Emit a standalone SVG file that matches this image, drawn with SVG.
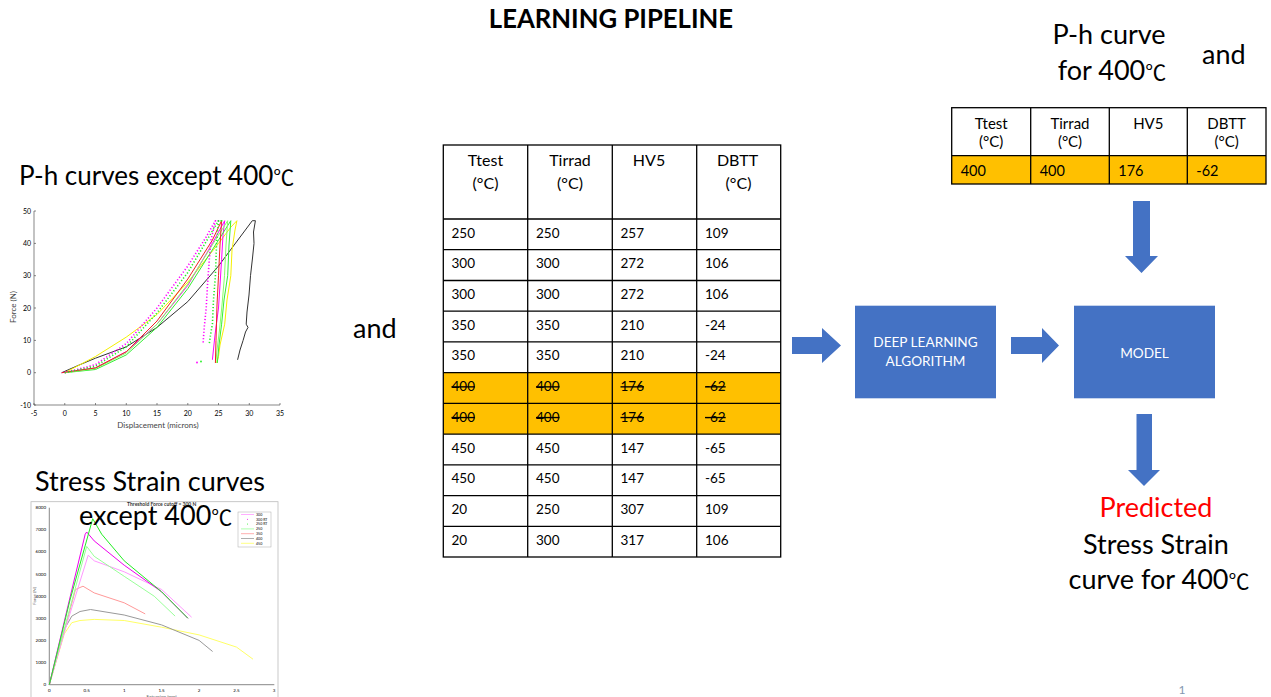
<svg xmlns="http://www.w3.org/2000/svg" width="1271" height="697" viewBox="0 0 1271 697">
<style>
text{font-family:Lato,"Noto Sans CJK JP",sans-serif;fill:#000}
.big{font-size:27px}
.deg{font-family:"Noto Sans CJK JP",sans-serif;font-size:21px}
.hdr{font-size:16px;text-anchor:middle}
.cell{font-size:13.5px}
.cell2{font-size:14.5px}
.strike{text-decoration:line-through}
.grid{stroke:#000;stroke-width:1.3;fill:none}
.arrow{fill:#4472C4}
.box{fill:#4472C4}
.boxt{font-size:13.6px;fill:#fff;text-anchor:middle}
.ax{stroke:#555;stroke-width:0.7;fill:none}
.tk{font-size:7px;fill:#444}
.tks{font-size:4.5px;fill:#555}
.c{fill:none;stroke-width:1;stroke-linejoin:round}
.dot{stroke-dasharray:1.2 2;stroke-width:1.6}
</style>

<g id="title"><text x="611" y="28" text-anchor="middle" style="font-size:25.7px;font-weight:bold">LEARNING PIPELINE</text></g>

<g id="ph-label"><text x="19" y="185" style="font-size:26px">P-h curves except 400<tspan class="deg">℃</tspan></text></g>

<g id="ph-plot">
<line class="ax" x1="34" y1="211" x2="34" y2="405"/>
<line class="ax" x1="34" y1="405" x2="280" y2="405"/>
<g class="ax">
<path d="M34 211h2M34 243.4h2M34 275.7h2M34 308h2M34 340.4h2M34 372.7h2M34 405h2"/>
<path d="M34 405v-2M64.75 405v-2M95.5 405v-2M126.3 405v-2M157 405v-2M187.8 405v-2M218.5 405v-2M249.3 405v-2M280 405v-2"/>
</g>
<g class="tk" text-anchor="end">
<text x="31" y="213.5">50</text><text x="31" y="245.9">40</text><text x="31" y="278.2">30</text><text x="31" y="310.5">20</text><text x="31" y="342.9">10</text><text x="31" y="375.2">0</text><text x="31" y="407.5">-10</text>
</g>
<g class="tk" text-anchor="middle">
<text x="34" y="416">-5</text><text x="64.75" y="416">0</text><text x="95.5" y="416">5</text><text x="126.3" y="416">10</text><text x="157" y="416">15</text><text x="187.8" y="416">20</text><text x="218.5" y="416">25</text><text x="249.3" y="416">30</text><text x="280" y="416">35</text>
</g>
<text class="tk" x="158" y="428" text-anchor="middle" style="font-size:8px">Displacement (microns)</text>
<text class="tk" x="0" y="0" text-anchor="middle" transform="translate(16,307) rotate(-90)" style="font-size:8px">Force (N)</text>
<polyline class="c" stroke="#333" points="61.7,372.7 80.1,364.6 95.5,358.2 126.3,346.8 157,327.4 187.8,301.6 218.5,266 252.3,220.7 255.4,220.7 253.5,232 254,243.4 252.5,258 250.5,275.7 249,295 247,312 246.2,324.2 248,327.4 245.5,332 243.1,340.4 240,350 237.6,359.8"/>
<polyline class="c" stroke="#f5f000" points="64.75,372.7 95.5,356.5 126.3,337.1 157,314.5 187.8,282.2 218.5,243.4 230.8,227.2 236.9,220.7 235,230 232,250 230.8,275.7 227,300 224.7,324.2 220,345 218.5,356.5 216.7,363"/>
<polyline class="c" stroke="#ff00ff" points="61.7,372.7 95.5,367.9 126.3,351.7 157,324.2 187.8,285.4 212.4,243.4 224.7,220.7 223,235 221.6,259.5 220,285 218.5,308 215,335 212.4,359.8"/>
<polyline class="c" stroke="#33ee33" points="64.75,372.7 95.5,369.5 126.3,354.9 157,327.4 187.8,288.6 218.5,240.1 230.8,220.7 229,245 227.7,275.7 224,300 221.6,324.2 219,345 217.3,363"/>
<polyline class="c" stroke="#88ff66" points="64.75,372.7 95.5,368.5 126.3,353 157,324.2 187.8,284 215.4,240.1 227.7,220.7 226,245 224.5,275.7 222,305 219.5,330 217,350 215.8,363"/>
<polyline class="c" stroke="#ee2222" points="61.7,372.7 95.5,367.9 126.3,351.7 157,321 187.8,279 212.4,240.1 221.6,220.7 220,245 218.5,275.7 217,305 216,340.4 215.4,363"/>
<polyline class="c dot" stroke="#ff00ff" points="64.75,372.7 95.5,364.6 126.3,343.6 157,308 187.8,266 206.2,236.9 215.4,220.7 218.5,220.7 215.4,220.7 211,240 209.3,259.5 207.5,285 206.2,308 204,330 203.1,343.6"/>
<polyline class="c dot" stroke="#22ee22" points="64.75,372.7 95.5,366.2 126.3,346.8 157,312.9 187.8,272.5 218.5,220.7 223,220.7 218.5,220.7 216.5,245 215.4,275.7 213.5,300 212.4,324.2 210.5,335 209.3,343.6"/>
<circle cx="197" cy="362.5" r="0.9" fill="#ff00ff"/>
<circle cx="201" cy="361.5" r="0.9" fill="#22ee22"/>
</g>

<g id="ss-label">
<text class="big" x="35" y="491">Stress Strain curves</text>
</g>

<g id="ss-plot">
<rect x="31" y="501.7" width="247" height="200" fill="none" stroke="#bbb" stroke-width="0.8"/>
<text x="161.7" y="505.5" text-anchor="middle" style="font-size:5px;font-weight:bold;fill:#333">Threshold Force cutoff = 300 N</text>
<line class="ax" x1="49.3" y1="507.7" x2="49.3" y2="684.7"/>
<line class="ax" x1="49.3" y1="684.7" x2="274.3" y2="684.7"/>
<g class="tks" text-anchor="end">
<text x="46" y="509.2">8000</text><text x="46" y="531.3">7000</text><text x="46" y="553.4">6000</text><text x="46" y="575.6">5000</text><text x="46" y="597.7">4000</text><text x="46" y="619.8">3000</text><text x="46" y="641.9">2000</text><text x="46" y="664.1">1000</text><text x="46" y="686.2">0</text>
</g>
<g class="tks" text-anchor="middle">
<text x="49.3" y="692">0</text><text x="86.7" y="692">0.5</text><text x="124.2" y="692">1</text><text x="161.6" y="692">1.5</text><text x="199.1" y="692">2</text><text x="236.5" y="692">2.5</text><text x="274" y="692">3</text>
</g>
<text class="tks" x="161.7" y="697.5" text-anchor="middle">Extension (mm)</text>
<text class="tks" x="0" y="0" text-anchor="middle" transform="translate(36,596) rotate(-90)">Force (N)</text>
<polyline class="c" stroke="#ffff66" points="49.3,684.7 56,662 64.3,633.8 71.8,622.7 80,620.5 94.2,619.4 124.2,620.5 161.6,627.2 199.1,634.9 236.5,647.1 253,659.2"/>
<polyline class="c" stroke="#999" points="49.3,684.7 56,660 64.3,629.4 71.8,616.1 80,611.5 90.5,609.5 124.2,615 161.6,624.9 199.1,640.4 212.6,651.5"/>
<polyline class="c" stroke="#ff9999" points="49.3,684.7 62,640 75.5,589.5 83,586.2 94.2,592.9 124.2,602.8 145.2,613.9"/>
<polyline class="c" stroke="#ff99ff" points="49.3,684.7 68,620 88.2,555.2 94.2,560.8 124.2,571.8 161.6,589.5 191.6,617.2"/>
<polyline class="c" stroke="#99ff99" points="49.3,684.7 68,615 86.7,546.4 94.2,556.3 124.2,576.3 154.2,596.2 175.1,616.1"/>
<polyline class="c" stroke="#ee00ee" stroke-width="1.8" points="49.3,684.7 67,610 85.2,534.2 86.7,532 94.2,540.9 124.2,565.2 161.6,591.8 187.9,618.3"/>
<polyline class="c" stroke="#22ee22" stroke-width="1.6" points="49.3,684.7 70,600 92.7,518.7 101.7,534.2 124.2,560.8 161.6,591.8 187.9,618.3"/>
<g>
<rect x="238" y="512" width="33" height="35" fill="#fff" stroke="#aaa" stroke-width="0.5"/>
<g stroke-width="0.8">
<line x1="241" y1="514.5" x2="254" y2="514.5" stroke="#ff99ff"/>
<circle cx="247.5" cy="519.3" r="0.5" fill="#ee00ee"/>
<circle cx="247.5" cy="524.1" r="0.5" fill="#22ee22"/>
<line x1="241" y1="528.9" x2="254" y2="528.9" stroke="#99ff99"/>
<line x1="241" y1="533.7" x2="254" y2="533.7" stroke="#ff9999"/>
<line x1="241" y1="538.5" x2="254" y2="538.5" stroke="#999"/>
<line x1="241" y1="543.3" x2="254" y2="543.3" stroke="#ffff66"/>
</g>
<g class="tks" style="font-size:3.6px">
<text x="256" y="515.7">300</text><text x="256" y="520.5">300 RT</text><text x="256" y="525.3">250 RT</text><text x="256" y="530.1">250</text><text x="256" y="534.9">350</text><text x="256" y="539.7">400</text><text x="256" y="544.5">450</text>
</g>
</g>
<text class="big" x="79" y="525">except 400<tspan class="deg">℃</tspan></text>
</g>

<g id="and-1"><text class="big" x="353" y="338">and</text></g>

<g id="data-table">
<rect x="443.3" y="145" width="337.4" height="412" fill="#fff"/>
<rect x="443.3" y="372.7" width="337.4" height="61.4" fill="#FFC000"/>
<g class="grid">
<rect x="443.3" y="145" width="337.4" height="412"/>
<path d="M527.7 145V557M612.3 145V557M696.7 145V557"/>
<path d="M443.3 219H780.7M443.3 249.7H780.7M443.3 280.5H780.7M443.3 311.2H780.7M443.3 341.9H780.7M443.3 372.7H780.7M443.3 403.4H780.7M443.3 434.1H780.7M443.3 464.8H780.7M443.3 495.6H780.7M443.3 526.3H780.7"/>
</g>
<g class="hdr">
<text x="485.5" y="166">Ttest</text><text x="485.5" y="189">(°C)</text>
<text x="570" y="166">Tirrad</text><text x="570" y="189">(°C)</text>
<text x="649" y="166">HV5</text>
<text x="737.5" y="166">DBTT</text><text x="738.5" y="189">(°C)</text>
</g>
<g class="cell">
<text x="451.5" y="237.5">250</text><text x="536" y="237.5">250</text><text x="620.5" y="237.5">257</text><text x="705" y="237.5">109</text>
<text x="451.5" y="268.2">300</text><text x="536" y="268.2">300</text><text x="620.5" y="268.2">272</text><text x="705" y="268.2">106</text>
<text x="451.5" y="299">300</text><text x="536" y="299">300</text><text x="620.5" y="299">272</text><text x="705" y="299">106</text>
<text x="451.5" y="329.7">350</text><text x="536" y="329.7">350</text><text x="620.5" y="329.7">210</text><text x="705" y="329.7">-24</text>
<text x="451.5" y="360.4">350</text><text x="536" y="360.4">350</text><text x="620.5" y="360.4">210</text><text x="705" y="360.4">-24</text>
<g class="strike">
<text x="451.5" y="391.2">400</text><text x="536" y="391.2">400</text><text x="620.5" y="391.2">176</text><text x="705" y="391.2">-62</text>
<text x="451.5" y="421.9">400</text><text x="536" y="421.9">400</text><text x="620.5" y="421.9">176</text><text x="705" y="421.9">-62</text>
</g>
<text x="451.5" y="452.6">450</text><text x="536" y="452.6">450</text><text x="620.5" y="452.6">147</text><text x="705" y="452.6">-65</text>
<text x="451.5" y="483.3">450</text><text x="536" y="483.3">450</text><text x="620.5" y="483.3">147</text><text x="705" y="483.3">-65</text>
<text x="451.5" y="514.1">20</text><text x="536" y="514.1">250</text><text x="620.5" y="514.1">307</text><text x="705" y="514.1">109</text>
<text x="451.5" y="544.8">20</text><text x="536" y="544.8">300</text><text x="620.5" y="544.8">317</text><text x="705" y="544.8">106</text>
</g>
</g>

<g id="ph-400-label">
<text class="big" x="1109" y="44" text-anchor="middle">P-h curve</text>
<text class="big" x="1112" y="80" text-anchor="middle">for 400<tspan class="deg">℃</tspan></text>
</g>
<g id="and-2"><text class="big" x="1202" y="64">and</text></g>

<g id="query-table">
<rect x="951.7" y="107.7" width="314.3" height="76.3" fill="#fff"/>
<rect x="951.7" y="155.7" width="314.3" height="28.3" fill="#FFC000"/>
<g class="grid">
<rect x="951.7" y="107.7" width="314.3" height="76.3"/>
<path d="M1030.7 107.7V184M1109.3 107.7V184M1187.3 107.7V184M951.7 155.7H1266"/>
</g>
<g class="hdr" style="font-size:15px">
<text x="991.2" y="128.5">Ttest</text><text x="991.2" y="147">(°C)</text>
<text x="1070" y="128.5">Tirrad</text><text x="1070" y="147">(°C)</text>
<text x="1148.3" y="128.5">HV5</text>
<text x="1226.6" y="128.5">DBTT</text><text x="1226.6" y="147">(°C)</text>
</g>
<g class="cell2">
<text x="960.7" y="176">400</text><text x="1039.7" y="176">400</text><text x="1118.3" y="176">176</text><text x="1196.3" y="176">-62</text>
</g>
</g>

<g id="dl-box">
<rect class="box" x="855" y="305.7" width="141" height="92.6"/>
<text class="boxt" x="925.5" y="347.3">DEEP LEARNING</text>
<text class="boxt" x="925.5" y="366">ALGORITHM</text>
</g>

<g id="model-box">
<rect class="box" x="1074" y="305.7" width="141" height="92.6"/>
<text class="boxt" x="1144.5" y="357.7">MODEL</text>
</g>

<g id="prediction">
<text class="big" x="1156" y="517" text-anchor="middle" style="fill:#ff0000">Predicted</text>
<text class="big" x="1156" y="554" text-anchor="middle">Stress Strain</text>
<text class="big" x="1159" y="589" text-anchor="middle">curve for 400<tspan class="deg">℃</tspan></text>
</g>

<g id="connectors">
<polygon class="arrow" points="792,337 822,337 822,328 841,345.5 822,363 822,354 792,354"/>
<polygon class="arrow" points="1011,337 1042,337 1042,328 1059,345.5 1042,363 1042,354 1011,354"/>
<polygon class="arrow" points="1133,201 1150,201 1150,256 1158,256 1141.5,273 1125,256 1133,256"/>
<polygon class="arrow" points="1136.5,414 1152,414 1152,470 1160,470 1144,486 1128,470 1136.5,470"/>
</g>

<g id="page-number"><text x="1182" y="694" text-anchor="middle" style="font-size:12px;fill:#8497B0">1</text></g>
</svg>
